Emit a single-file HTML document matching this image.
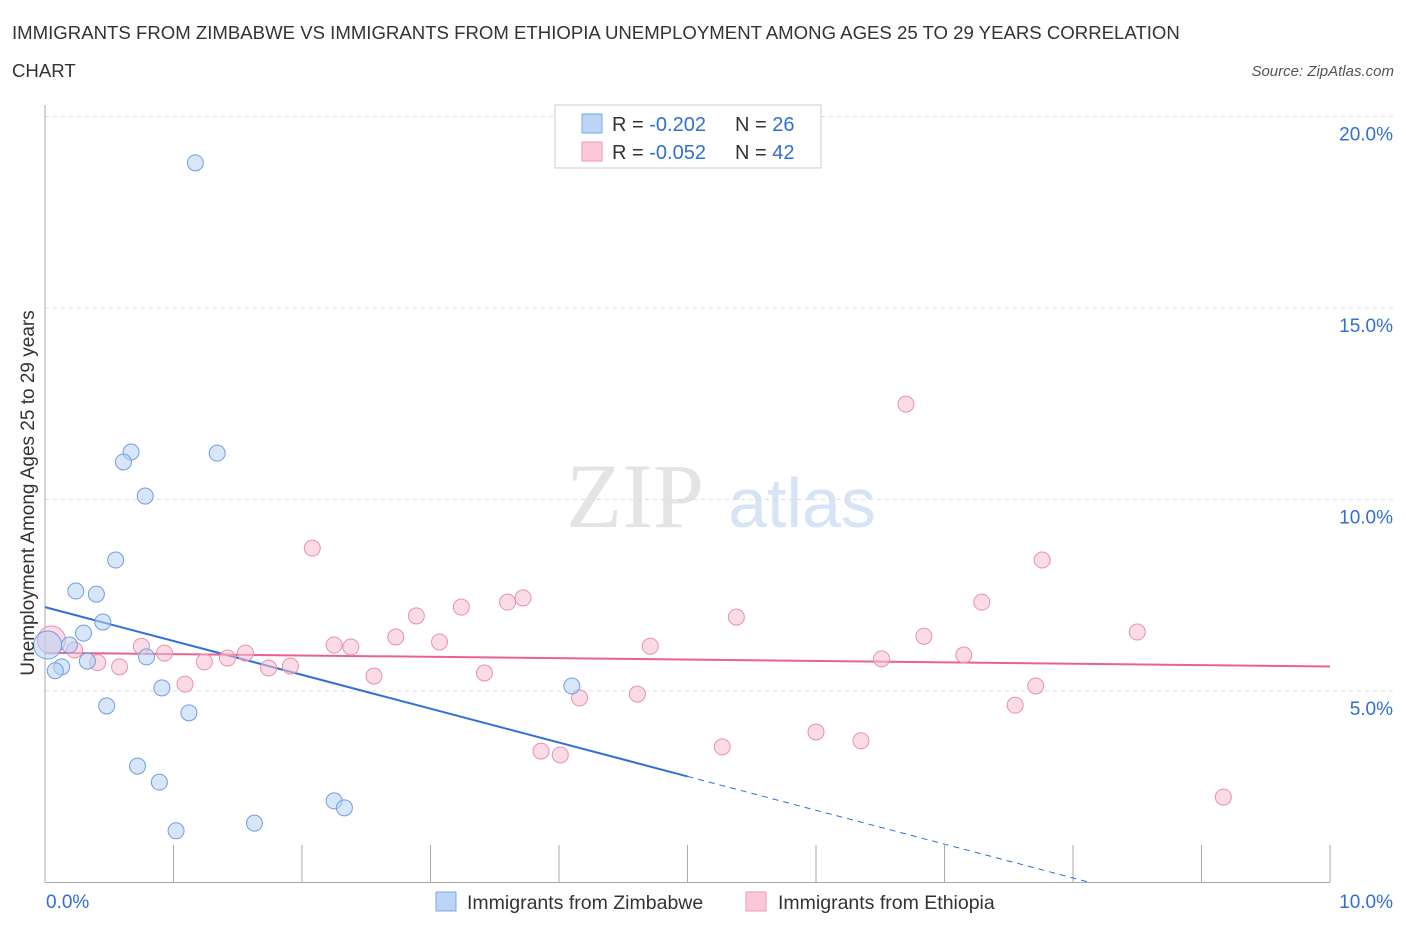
<!DOCTYPE html>
<html><head><meta charset="utf-8"><style>
body{margin:0;background:#fff;font-family:"Liberation Sans",sans-serif;}
svg{display:block}
</style></head><body>
<svg id="chart" width="1406" height="930" xmlns="http://www.w3.org/2000/svg">
<text x="12" y="39" font-size="18.6" fill="#333">IMMIGRANTS FROM ZIMBABWE VS IMMIGRANTS FROM ETHIOPIA UNEMPLOYMENT AMONG AGES 25 TO 29 YEARS CORRELATION</text>
<text x="12" y="77" font-size="18.6" fill="#333">CHART</text>
<text x="1394" y="76" font-size="15" font-style="italic" fill="#555" text-anchor="end">Source: ZipAtlas.com</text>
<text x="635" y="527" font-size="92" font-family="Liberation Serif,serif" fill="#e4e4e4" text-anchor="middle">ZIP</text>
<text x="802" y="527" font-size="70" fill="#d6e4f5" text-anchor="middle">atlas</text>
<g id="grid"></g><g id="axes"></g><g id="trend"></g><g id="points"></g>
<text transform="translate(34,493) rotate(-90)" font-size="19" fill="#333" text-anchor="middle">Unemployment Among Ages 25 to 29 years</text>
<g>
<rect x="555" y="105" width="266" height="63" fill="#fff" stroke="#ccc"/>
<rect x="582" y="114" width="20" height="19" fill="#bcd5f5" stroke="#7aa8e6"/>
<text x="612" y="131" font-size="20" fill="#333">R = <tspan fill="#2f6fd6">-0.202</tspan></text>
<text x="735" y="131" font-size="20" fill="#333">N = <tspan fill="#2f6fd6">26</tspan></text>
<rect x="582" y="142" width="20" height="19" fill="#fac8d8" stroke="#ee9ab6"/>
<text x="612" y="159" font-size="20" fill="#333">R = <tspan fill="#2f6fd6">-0.052</tspan></text>
<text x="735" y="159" font-size="20" fill="#333">N = <tspan fill="#2f6fd6">42</tspan></text>
</g>
<g>
<rect x="436" y="892" width="20" height="19" fill="#bcd5f5" stroke="#7aa8e6"/>
<text x="467" y="909" font-size="19.5" fill="#333">Immigrants from Zimbabwe</text>
<rect x="746" y="892" width="20" height="19" fill="#fac8d8" stroke="#ee9ab6"/>
<text x="778" y="909" font-size="19.5" fill="#333">Immigrants from Ethiopia</text>
</g>
</svg>
<script>
const blueX=[1.17,0.67,0.61,1.34,0.78,0.55,0.24,0.40,0.45,0.30,0.19,0.02,0.13,0.08,0.33,0.79,0.91,0.48,1.12,0.72,0.89,1.02,1.63,2.25,2.33,4.10];
const blueY=[18.79,11.24,10.98,11.21,10.09,8.42,7.61,7.53,6.80,6.51,6.20,6.20,5.63,5.53,5.78,5.89,5.08,4.61,4.43,3.04,2.62,1.35,1.55,2.13,1.95,5.13];
const pinkX=[6.70,7.76,2.08,3.72,3.60,3.24,2.89,5.38,7.29,8.50,6.84,2.73,3.07,2.25,2.38,4.71,0.75,0.93,1.56,1.42,1.24,0.58,0.41,0.23,1.74,1.91,6.51,7.15,2.56,3.42,1.09,7.71,4.61,4.16,7.55,3.86,4.01,5.27,6.00,6.35,9.17,0.05];
const pinkY=[12.49,8.42,8.73,7.43,7.32,7.19,6.96,6.93,7.32,6.54,6.43,6.41,6.28,6.20,6.15,6.17,6.17,5.99,5.99,5.86,5.76,5.63,5.74,6.07,5.60,5.65,5.84,5.94,5.39,5.47,5.18,5.13,4.92,4.82,4.63,3.43,3.33,3.54,3.93,3.70,2.23,6.33];
const blueTrend=[7.19,2.77];
const pinkTrend=[6.00,5.64];
const yTicks=[5,10,15,20];
const yTickLabels=["5.0%","10.0%","15.0%","20.0%"];
const xTickLabels=["0.0%","10.0%"];
const NS="http://www.w3.org/2000/svg";
const xs=v=>45+v*128.5, ys=v=>882.5-v*38.3;
function mk(tag,attrs,parent){const e=document.createElementNS(NS,tag);for(const k in attrs)e.setAttribute(k,attrs[k]);document.getElementById(parent).appendChild(e);return e;}
yTicks.forEach((t,i)=>{
 const l=mk('line',{x1:45,x2:1394,y1:ys(t),y2:ys(t),stroke:'#ddd','stroke-dasharray':'4,4'},'grid');
 
 
 const tx=mk('text',{x:1393,y:ys(t)+24,'font-size':19,fill:'#2f6fd6','text-anchor':'end'},'grid');
 tx.textContent=yTickLabels[i];
 
 
});
const ax=mk('line',{x1:45,x2:1330,y1:882.5,y2:882.5,stroke:'#aaa'},'axes');


const ay=mk('line',{x1:45,x2:45,y1:105,y2:882.5,stroke:'#aaa'},'axes');


for(let i=0;i<=10;i++){
 const t=mk('line',{x1:xs(i),x2:xs(i),y1:845,y2:882.5,stroke:'#aaa'},'axes');
 
 
}
[[0,'start',46],[10,'end',1393]].forEach((d,i)=>{
 const t=mk('text',{x:d[2],y:908,'font-size':19,fill:'#2f6fd6','text-anchor':d[1]},'axes');
 t.textContent=xTickLabels[i];
 
 
});
const bAt=x=>blueTrend[0]+(blueTrend[1]-blueTrend[0])*x/5;
const bs=mk('line',{x1:xs(0),y1:ys(bAt(0)),x2:xs(5),y2:ys(bAt(5)),stroke:'#2f6fd6','stroke-width':2},'trend');


const xEnd=5*blueTrend[0]/(blueTrend[0]-blueTrend[1]);
const bd=mk('line',{x1:xs(5),y1:ys(bAt(5)),x2:xs(xEnd),y2:ys(0),stroke:'#2f6fd6','stroke-width':1,'stroke-dasharray':'6,5'},'trend');


const ps=mk('line',{x1:xs(0),y1:ys(pinkTrend[0]),x2:xs(10),y2:ys(pinkTrend[1]),stroke:'#e8628f','stroke-width':2},'trend');


function pts(X,Y,fill,stroke,name){
 X.forEach((x,i)=>{
  const r=(x<0.06)?14:8;
  const c=mk('circle',{cx:xs(x),cy:ys(Y[i]),r:r,fill:fill,'fill-opacity':0.55,stroke:stroke,'stroke-width':1},'points');
  
  
 });
}
pts(pinkX,pinkY,'#f8c0d2','#ec8fb0','ethiopia-point');
pts(blueX,blueY,'#b7d1f3','#6f9fe0','zimbabwe-point');
</script>
</body></html>
